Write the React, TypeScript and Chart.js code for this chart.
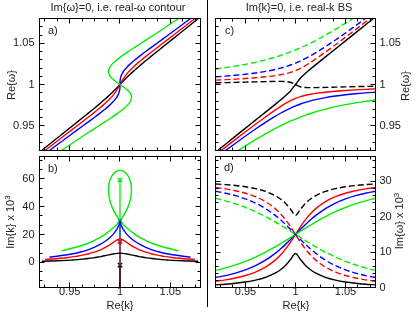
import React, { useEffect, useRef } from "react";
import { Chart, registerables } from "chart.js";
Chart.register(...registerables);

const FONT = '"Liberation Sans", Arial, Helvetica, sans-serif';
const TEXT = "#222";

// ---------- axes ----------
const X_RANGE = [0.92, 1.08];
const X_TICKS = [0.95, 1, 1.05];
const RE_W_RANGE = [0.92, 1.08];
const RE_W_TICKS = [0.95, 1, 1.05];
const IM_K_RANGE = [-18, 76];
const IM_K_TICKS = [0, 20, 40, 60];
const IM_W_RANGE = [0, 37];
const IM_W_TICKS = [0, 10, 20, 30];

// ---------- panels a/b : real-omega contour ----------
const OMEGA_RC = [0.92, 0.94, 0.95, 0.955, 0.96, 0.965, 0.97, 0.975, 0.979, 0.982, 0.985, 0.988, 0.991, 0.994, 0.997, 1, 1.003, 1.006, 1.009, 1.012, 1.015, 1.018, 1.021, 1.025, 1.03, 1.035, 1.04, 1.045, 1.05, 1.06, 1.08];

const RE_K_BLACK = [0.92215, 0.94261, 0.95288, 0.95802, 0.96314, 0.96823, 0.97327, 0.97821, 0.98207, 0.98488, 0.98761, 0.99025, 0.9928, 0.99526, 0.99765, 1, 1.00235, 1.00474, 1.0072, 1.00975, 1.01239, 1.01512, 1.01793, 1.02179, 1.02673, 1.03177, 1.03686, 1.04198, 1.04712, 1.05739, 1.07785];
const RE_K_RED = [0.92555, 0.94675, 0.95745, 0.96279, 0.9681, 0.97334, 0.97844, 0.9833, 0.98693, 0.98945, 0.99175, 0.99382, 0.99564, 0.99725, 0.99867, 1, 1.00133, 1.00276, 1.00436, 1.00618, 1.00825, 1.01056, 1.01307, 1.0167, 1.02156, 1.02666, 1.0319, 1.03721, 1.04256, 1.05325, 1.07445];
const RE_K_BLUE = [0.92986, 0.952, 0.96324, 0.96885, 0.9744, 0.97982, 0.985, 0.98975, 0.99309, 0.99524, 0.997, 0.99835, 0.99926, 0.99977, 0.99997, 1, 1.00003, 1.00023, 1.00074, 1.00166, 1.003, 1.00477, 1.00691, 1.01025, 1.015, 1.02018, 1.0256, 1.03115, 1.03677, 1.048, 1.07014];
const RE_K_GREEN = [0.9417, 0.9664, 0.97912, 0.98547, 0.99168, 0.99762, 1.003, 1.00746, 1.01001, 1.01112, 1.0114, 1.01076, 1.00917, 1.00669, 1.00354, 1, 0.99647, 0.99331, 0.99083, 0.98924, 0.9886, 0.98888, 0.98999, 0.99254, 0.997, 1.00238, 1.00832, 1.01453, 1.02088, 1.0336, 1.0583];

const IM_K_BLACK = [0.806, 1.307, 1.729, 2.01, 2.352, 2.767, 3.267, 3.856, 4.385, 4.804, 5.227, 5.632, 5.994, 6.282, 6.469, 6.533, 6.469, 6.282, 5.994, 5.632, 5.227, 4.804, 4.385, 3.856, 3.267, 2.767, 2.352, 2.01, 1.729, 1.307, 0.806];
const IM_K_RED = [2.081, 3.375, 4.467, 5.192, 6.075, 7.147, 8.438, 9.959, 11.325, 12.408, 13.5, 14.548, 15.481, 16.226, 16.708, 16.875, 16.708, 16.226, 15.481, 14.548, 13.5, 12.408, 11.325, 9.959, 8.438, 7.147, 6.075, 5.192, 4.467, 3.375, 2.081];
const IM_K_BLUE = [3.699, 6.0, 7.941, 9.231, 10.8, 12.706, 15.0, 17.705, 20.134, 22.059, 24.0, 25.862, 27.523, 28.846, 29.703, 30, 29.703, 28.846, 27.523, 25.862, 24.0, 22.059, 20.134, 17.705, 15.0, 12.706, 10.8, 9.231, 7.941, 6.0, 3.699];
const IM_K_GREEN = [8.14, 13.2, 17.47, 20.31, 23.76, 27.96, 33.0, 38.96, 44.3, 48.54, 52.81, 56.9, 60.56, 63.47, 65.35, 66.01, 65.35, 63.47, 60.56, 56.9, 52.81, 48.54, 44.3, 38.96, 33.0, 27.96, 23.76, 20.31, 17.47, 13.2, 8.14];

// exceptional points (x markers) : black, red, blue, green
const EP_RE_K = [1, 1, 1, 1];
const EP_IM_K = [-2, 15, 30, 59];

// ---------- panels c/d : real-k band structure ----------
const K_BS = [0.92, 0.93, 0.94, 0.95, 0.96, 0.97, 0.98, 0.985, 0.99, 0.995, 1, 1.005, 1.01, 1.015, 1.02, 1.03, 1.04, 1.05, 1.06, 1.07, 1.08];

const RE_W_BLACK_SOLID = [0.91788, 0.92767, 0.93742, 0.94713, 0.9568, 0.96647, 0.97623, 0.98123, 0.98645, 0.99223, 1, 1.00777, 1.01355, 1.01877, 1.02377, 1.03353, 1.0432, 1.05287, 1.06258, 1.07233, 1.08212];
const RE_W_BLACK_DASHED = [1.00212, 1.00233, 1.00258, 1.00287, 1.0032, 1.00353, 1.00377, 1.00377, 1.00355, 1.00277, 1, 0.99723, 0.99645, 0.99623, 0.99623, 0.99647, 0.9968, 0.99713, 0.99742, 0.99767, 0.99788];
const RE_W_RED_SOLID = [0.91465, 0.92412, 0.93349, 0.94273, 0.95181, 0.96067, 0.96919, 0.97322, 0.97701, 0.9804, 0.98323, 0.9854, 0.98701, 0.98822, 0.98919, 0.99067, 0.99181, 0.99273, 0.99349, 0.99412, 0.99465];
const RE_W_RED_DASHED = [1.00535, 1.00588, 1.00651, 1.00727, 1.00819, 1.00933, 1.01081, 1.01178, 1.01299, 1.0146, 1.01677, 1.0196, 1.02299, 1.02678, 1.03081, 1.03933, 1.04819, 1.05727, 1.06651, 1.07588, 1.08535];
const RE_W_BLUE_SOLID = [0.91077, 0.91988, 0.92884, 0.93758, 0.94604, 0.95413, 0.96166, 0.96515, 0.96839, 0.97136, 0.97402, 0.97636, 0.97839, 0.98015, 0.98166, 0.98413, 0.98604, 0.98758, 0.98884, 0.98988, 0.99077];
const RE_W_BLUE_DASHED = [1.00923, 1.01012, 1.01116, 1.01242, 1.01396, 1.01587, 1.01834, 1.01985, 1.02161, 1.02364, 1.02598, 1.02864, 1.03161, 1.03485, 1.03834, 1.04587, 1.05396, 1.06242, 1.07116, 1.08012, 1.08923];
const RE_W_GREEN_SOLID = [0.90118, 0.90959, 0.91776, 0.92563, 0.93314, 0.94022, 0.94679, 0.94986, 0.95277, 0.95552, 0.9581, 0.96052, 0.96277, 0.96486, 0.96679, 0.97022, 0.97314, 0.97563, 0.97776, 0.97959, 0.98118];
const RE_W_GREEN_DASHED = [1.01882, 1.02041, 1.02224, 1.02437, 1.02686, 1.02978, 1.03321, 1.03514, 1.03723, 1.03948, 1.0419, 1.04448, 1.04723, 1.05014, 1.05321, 1.05978, 1.06686, 1.07437, 1.08224, 1.09041, 1.09882];

const IM_W_BLACK_SOLID = [0.754, 0.938, 1.19, 1.547, 2.069, 2.859, 4.108, 5.015, 6.223, 7.889, 9.615, 7.889, 6.223, 5.015, 4.108, 2.859, 2.069, 1.547, 1.19, 0.938, 0.754];
const IM_W_BLACK_DASHED = [29.246, 29.062, 28.81, 28.453, 27.931, 27.141, 25.892, 24.985, 23.777, 22.111, 20.385, 22.111, 23.777, 24.985, 25.892, 27.141, 27.931, 28.453, 28.81, 29.062, 29.246];
const IM_W_RED_SOLID = [1.768, 2.159, 2.675, 3.379, 4.357, 5.751, 7.793, 9.164, 10.831, 12.807, 15, 17.193, 19.169, 20.836, 22.207, 24.249, 25.643, 26.621, 27.325, 27.841, 28.232];
const IM_W_RED_DASHED = [28.232, 27.841, 27.325, 26.621, 25.643, 24.249, 22.207, 20.836, 19.169, 17.193, 15, 12.807, 10.831, 9.164, 7.793, 5.751, 4.357, 3.379, 2.675, 2.159, 1.768];
const IM_W_BLUE_SOLID = [2.812, 3.364, 4.068, 4.979, 6.165, 7.712, 9.707, 10.887, 12.181, 13.565, 15, 16.435, 17.819, 19.113, 20.293, 22.288, 23.835, 25.021, 25.932, 26.636, 27.188];
const IM_W_BLUE_DASHED = [27.188, 26.636, 25.932, 25.021, 23.835, 22.288, 20.293, 19.113, 17.819, 16.435, 15, 13.565, 12.181, 10.887, 9.707, 7.712, 6.165, 4.979, 4.068, 3.364, 2.812];
const IM_W_GREEN_SOLID = [4.799, 5.525, 6.387, 7.405, 8.598, 9.975, 11.529, 12.362, 13.222, 14.106, 15, 15.894, 16.778, 17.638, 18.471, 20.025, 21.402, 22.595, 23.613, 24.475, 25.201];
const IM_W_GREEN_DASHED = [25.201, 24.475, 23.613, 22.595, 21.402, 20.025, 18.471, 17.638, 16.778, 15.894, 15, 14.106, 13.222, 12.362, 11.529, 9.975, 8.598, 7.405, 6.387, 5.525, 4.799];

// ---------- styles ----------
const BLACK = "#000000";
const RED = "#ff0000";
const BLUE = "#0000ff";
const GREEN = "#00ee00";
const LW = 1.4;
const DASH = [6, 3];
const X_MINOR = 0.0125;
const RE_W_MINOR = 0.01;
const IM_K_MINOR = 20 / 3;
const IM_W_MINOR = 2;
const W = 415;
const H = 315;
const AXIS_W = 39.5;
const X_H = 27.5;

type P = { x: number; y: number };
const pts = (xs: number[], ys: number[]): P[] => xs.map((x, i) => ({ x, y: ys[i] }));

function curve(data: P[], color: string, extra: any = {}) {
  return {
    data,
    borderColor: color,
    backgroundColor: color,
    borderWidth: LW,
    pointRadius: 0,
    pointHoverRadius: 0,
    showLine: true,
    fill: false,
    ...extra,
  };
}

const PARAM = { tension: 0.35 };
const MONO = { cubicInterpolationMode: "monotone" };

function datasetsA() {
  return [
    curve(pts(RE_K_GREEN, OMEGA_RC), GREEN, PARAM),
    curve(pts(RE_K_BLUE, OMEGA_RC), BLUE, PARAM),
    curve(pts(RE_K_RED, OMEGA_RC), RED, PARAM),
    curve(pts(RE_K_BLACK, OMEGA_RC), BLACK, PARAM),
  ];
}

function datasetsB() {
  const colors = [BLACK, RED, BLUE, GREEN];
  const curves = [
    curve(pts(RE_K_BLACK, IM_K_BLACK), BLACK, PARAM),
    curve(pts(RE_K_RED, IM_K_RED), RED, PARAM),
    curve(pts(RE_K_BLUE, IM_K_BLUE), BLUE, PARAM),
    curve(pts(RE_K_GREEN, IM_K_GREEN), GREEN, PARAM),
  ];
  const cuts = EP_IM_K.map((v, i) =>
    curve(
      [
        { x: EP_RE_K[i], y: IM_K_RANGE[0] - 5 },
        { x: EP_RE_K[i], y: v },
      ],
      colors[i],
      { borderWidth: i === 3 ? 1.3 : 1 }
    )
  );
  const marks = EP_IM_K.map((v, i) => ({
    data: [{ x: EP_RE_K[i], y: v }],
    showLine: false,
    pointStyle: "crossRot",
    pointRadius: 3,
    pointHoverRadius: 3,
    pointBorderWidth: 1.5,
    borderColor: colors[i],
    backgroundColor: colors[i],
  }));
  return [...curves, ...cuts, ...marks];
}

function datasetsC() {
  return [
    curve(pts(K_BS, RE_W_GREEN_DASHED), GREEN, { ...MONO, borderDash: DASH }),
    curve(pts(K_BS, RE_W_BLUE_DASHED), BLUE, { ...MONO, borderDash: DASH }),
    curve(pts(K_BS, RE_W_RED_DASHED), RED, { ...MONO, borderDash: DASH }),
    curve(pts(K_BS, RE_W_BLACK_DASHED), BLACK, { ...MONO, borderDash: DASH }),
    curve(pts(K_BS, RE_W_GREEN_SOLID), GREEN, MONO),
    curve(pts(K_BS, RE_W_BLUE_SOLID), BLUE, MONO),
    curve(pts(K_BS, RE_W_RED_SOLID), RED, MONO),
    curve(pts(K_BS, RE_W_BLACK_SOLID), BLACK, MONO),
  ];
}

function datasetsD() {
  return [
    curve(pts(K_BS, IM_W_GREEN_DASHED), GREEN, { ...MONO, borderDash: DASH }),
    curve(pts(K_BS, IM_W_BLUE_DASHED), BLUE, { ...MONO, borderDash: DASH }),
    curve(pts(K_BS, IM_W_RED_DASHED), RED, { ...MONO, borderDash: DASH }),
    curve(pts(K_BS, IM_W_BLACK_DASHED), BLACK, { ...MONO, borderDash: DASH }),
    curve(pts(K_BS, IM_W_GREEN_SOLID), GREEN, MONO),
    curve(pts(K_BS, IM_W_BLUE_SOLID), BLUE, MONO),
    curve(pts(K_BS, IM_W_RED_SOLID), RED, MONO),
    curve(pts(K_BS, IM_W_BLACK_SOLID), BLACK, MONO),
  ];
}

type Panel = {
  area: { l: number; t: number; r: number; b: number };
  yPos: "left" | "right";
  showX: boolean;
  yRange: number[];
  yTicks: number[];
  yMinor: number;
  datasets: () => any[];
};

const PANELS: Panel[] = [
  { area: { l: 39.5, t: 18.5, r: 200.5, b: 150.5 }, yPos: "left", showX: false, yRange: RE_W_RANGE, yTicks: RE_W_TICKS, yMinor: RE_W_MINOR, datasets: datasetsA },
  { area: { l: 39.5, t: 156.5, r: 200.5, b: 287.5 }, yPos: "left", showX: true, yRange: IM_K_RANGE, yTicks: IM_K_TICKS, yMinor: IM_K_MINOR, datasets: datasetsB },
  { area: { l: 215.5, t: 18.5, r: 375.5, b: 150.5 }, yPos: "right", showX: false, yRange: RE_W_RANGE, yTicks: RE_W_TICKS, yMinor: RE_W_MINOR, datasets: datasetsC },
  { area: { l: 215.5, t: 156.5, r: 375.5, b: 287.5 }, yPos: "right", showX: true, yRange: IM_W_RANGE, yTicks: IM_W_TICKS, yMinor: IM_W_MINOR, datasets: datasetsD },
];

function makeFrame(p: Panel) {
  return {
    id: "frameTicks",
    afterDraw(chart: any) {
      const { ctx, chartArea: a, scales } = chart;
      const xs = scales.x;
      const ys = scales.y;
      ctx.save();
      ctx.strokeStyle = "#000";
      ctx.lineWidth = 1;
      const seg = (x1: number, y1: number, x2: number, y2: number) => {
        ctx.beginPath();
        ctx.moveTo(x1, y1);
        ctx.lineTo(x2, y2);
        ctx.stroke();
      };
      const steps = (min: number, max: number, step: number) => {
        const out: number[] = [];
        for (let n = Math.ceil(min / step - 1e-9); n * step <= max + 1e-9; n++) out.push(n * step);
        return out;
      };
      const xt = (v: number, len: number) => {
        const px = Math.round(xs.getPixelForValue(v) - 0.5) + 0.5;
        if (px <= a.left + 1 || px >= a.right - 1) return;
        seg(px, a.bottom, px, a.bottom - len);
        seg(px, a.top, px, a.top + len);
      };
      const yt = (v: number, len: number) => {
        const py = Math.round(ys.getPixelForValue(v) - 0.5) + 0.5;
        if (py <= a.top + 1 || py >= a.bottom - 1) return;
        seg(a.left, py, a.left + len, py);
        seg(a.right, py, a.right - len, py);
      };
      steps(xs.min, xs.max, X_MINOR).forEach((v) => xt(v, 3));
      X_TICKS.forEach((v) => xt(v, 5));
      steps(ys.min, ys.max, p.yMinor).forEach((v) => yt(v, 3));
      p.yTicks.forEach((v) => yt(v, 5));
      ctx.strokeRect(a.left, a.top, a.right - a.left, a.bottom - a.top);
      ctx.restore();
    },
  };
}

function buildConfig(p: Panel): any {
  const tickFont = { family: FONT, size: 11 };
  const padding = {
    left: p.yPos === "left" ? p.area.l - AXIS_W : p.area.l,
    right: p.yPos === "right" ? W - p.area.r - AXIS_W : W - p.area.r,
    top: p.area.t,
    bottom: p.showX ? H - p.area.b - X_H : H - p.area.b,
  };
  const xScale: any = {
    type: "linear",
    min: X_RANGE[0],
    max: X_RANGE[1],
    display: p.showX,
    position: "bottom",
    grid: { display: false, drawTicks: false },
    border: { display: false },
    ticks: { autoSkip: false, maxRotation: 0, padding: -2, color: TEXT, font: tickFont, callback: (v: any) => String(v) },
    afterBuildTicks: (s: any) => {
      s.ticks = X_TICKS.map((value) => ({ value }));
    },
  };
  if (p.showX) xScale.afterFit = (s: any) => { s.height = X_H; };
  return {
    type: "scatter",
    data: { datasets: p.datasets() },
    options: {
      responsive: false,
      maintainAspectRatio: false,
      animation: false,
      devicePixelRatio: 1,
      events: [],
      layout: { padding },
      plugins: { legend: { display: false }, tooltip: { enabled: false } },
      scales: {
        x: xScale,
        y: {
          type: "linear",
          position: p.yPos,
          min: p.yRange[0],
          max: p.yRange[1],
          grid: { display: false, drawTicks: false },
          border: { display: false },
          ticks: { autoSkip: false, padding: p.yPos === "left" ? 5 : 4, color: TEXT, font: tickFont, callback: (v: any) => String(v) },
          afterBuildTicks: (s: any) => {
            s.ticks = p.yTicks.map((value) => ({ value }));
          },
          afterFit: (s: any) => {
            s.width = AXIS_W;
          },
        },
      },
    },
    plugins: [makeFrame(p)],
  };
}

const baseText: React.CSSProperties = {
  position: "absolute",
  whiteSpace: "nowrap",
  fontSize: 11,
  lineHeight: "13px",
  color: TEXT,
};

function Txt({ x, y, rot, left, children }: { x: number; y: number; rot?: boolean; left?: boolean; children: React.ReactNode }) {
  const t = left ? "translate(0,-50%)" : "translate(-50%,-50%)" + (rot ? " rotate(-90deg)" : "");
  return <div style={{ ...baseText, left: x, top: y, transform: t }}>{children}</div>;
}

const Sup = ({ children }: { children: React.ReactNode }) => (
  <span style={{ fontSize: 8, position: "relative", top: -4 }}>{children}</span>
);

export default function App() {
  const r0 = useRef<HTMLCanvasElement>(null);
  const r1 = useRef<HTMLCanvasElement>(null);
  const r2 = useRef<HTMLCanvasElement>(null);
  const r3 = useRef<HTMLCanvasElement>(null);
  const refs = [r0, r1, r2, r3];

  useEffect(() => {
    const charts = PANELS.map((p, i) => new Chart(refs[i].current as HTMLCanvasElement, buildConfig(p)));
    return () => charts.forEach((c) => c.destroy());
  }, []);

  return (
    <div style={{ position: "fixed", left: 0, top: 0, width: W, height: H, background: "#fff", overflow: "hidden", fontFamily: FONT }}>
      {refs.map((r, i) => (
        <canvas key={i} ref={r} width={W} height={H} style={{ position: "absolute", left: 0, top: 0, width: W, height: H }} />
      ))}
      <div style={{ position: "absolute", left: 206.5, top: 0, width: 1.5, height: 307, background: "#000" }} />
      <Txt x={118} y={7}>{"Im{ω}=0, i.e. real-ω contour"}</Txt>
      <Txt x={299} y={7}>{"Im{k}=0, i.e. real-k BS"}</Txt>
      <Txt x={48} y={30} left>a)</Txt>
      <Txt x={48} y={168} left>b)</Txt>
      <Txt x={225} y={30} left>c)</Txt>
      <Txt x={224} y={167} left>d)</Txt>
      <Txt x={11} y={85} rot>{"Re{ω}"}</Txt>
      <Txt x={11} y={222} rot>{"Im{k} x 10"}<Sup>3</Sup></Txt>
      <Txt x={120} y={305}>{"Re{k}"}</Txt>
      <Txt x={296} y={305}>{"Re{k}"}</Txt>
      <Txt x={405} y={86} rot>{"Re{ω}"}</Txt>
      <Txt x={400} y={221} rot>{"Im{ω} x 10"}<Sup>3</Sup></Txt>
    </div>
  );
}
